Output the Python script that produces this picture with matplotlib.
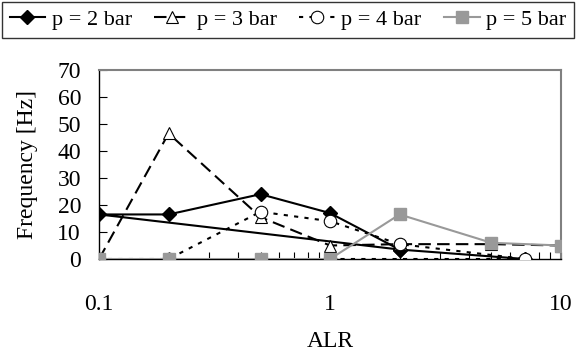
import matplotlib
matplotlib.use("Agg")
import matplotlib.pyplot as plt
from matplotlib.ticker import LogLocator, NullFormatter, FixedLocator, FixedFormatter

plt.rcParams['font.family'] = ['Liberation Serif', 'DejaVu Serif']

# Data (ALR, frequency in Hz); path order follows the reference's drawn lines
p2_x = [7, 2, 0.1, 0.2, 0.5, 1, 2]
p2_y = [0, 3.5, 16.5, 16.5, 24, 17, 3.5]

p3_x = [0.1, 0.2, 0.5, 1, 2, 5, 10]
p3_y = [0, 46.5, 15.5, 5, 5.5, 5.5, 5]

p4_x = [1, 7, 2, 1, 0.5, 0.2, 0.1]
p4_y = [0, 0, 5.5, 14, 17.5, 0, 0]

p5_x = [0.1, 0.2, 0.5, 1, 2, 5, 10]
p5_y = [0, 0, 0, 0, 16.5, 6, 5]

labels = ["p = 2 bar", "p = 3 bar", "p = 4 bar", "p = 5 bar"]
xticks = [0.1, 1, 10]
xtick_labels = ["0.1", "1", "10"]
yticks = [0, 10, 20, 30, 40, 50, 60, 70]

fig = plt.figure(figsize=(5.76, 3.57), dpi=100)
ax = fig.add_axes([0.172, 0.2745, 0.802, 0.5295])

h2, = ax.plot(p2_x, p2_y, color='black', lw=1.5, marker='D', ms=7.5,
              mfc='black', mec='black', label=labels[0], zorder=3)
h3, = ax.plot(p3_x, p3_y, color='black', lw=1.5, dashes=(6, 3), marker='^', ms=9,
              mfc='white', mec='black', mew=0.8, label=labels[1], zorder=3)
h4, = ax.plot(p4_x, p4_y, color='black', lw=1.5, dashes=(2, 3), marker='o', ms=9,
              mfc='white', mec='black', mew=0.8, label=labels[2], zorder=3)
h5, = ax.plot(p5_x, p5_y, color='#999999', lw=1.5, marker='s', ms=9,
              mfc='#999999', mec='#999999', label=labels[3], zorder=4)

ax.set_xscale('log')
ax.set_xlim(0.1, 10)
ax.set_ylim(0, 70)
ax.xaxis.set_major_locator(FixedLocator(xticks))
ax.xaxis.set_major_formatter(FixedFormatter(xtick_labels))
ax.xaxis.set_minor_locator(LogLocator(base=10, subs=range(2, 10)))
ax.xaxis.set_minor_formatter(NullFormatter())
ax.set_yticks(yticks)

ax.tick_params(axis='x', which='both', direction='in', top=False, labelsize=17,
               pad=25, length=5, width=0.8)
ax.tick_params(axis='y', which='major', direction='in', right=False, labelsize=17,
               length=6, width=0.8, pad=13)

for s in ['top', 'right']:
    ax.spines[s].set_color('#808080')
    ax.spines[s].set_linewidth(1.5)
for s in ['left', 'bottom']:
    ax.spines[s].set_color('black')
    ax.spines[s].set_linewidth(1.0)

ax.set_xlabel("ALR", fontsize=17, labelpad=12)
ax.set_ylabel("Frequency [Hz]", fontsize=17, labelpad=14)

leg = fig.legend(handles=[h2, h3, h4, h5], loc='upper left',
                 bbox_to_anchor=(0.003, 0.89, 0.994, 0.105), mode='expand',
                 ncol=4, fontsize=16, frameon=True, fancybox=False,
                 borderpad=0.35, handlelength=1.6, handletextpad=0.3,
                 columnspacing=0.8, borderaxespad=0.0)
leg.get_frame().set_edgecolor('black')
leg.get_frame().set_linewidth(1.0)

fig.savefig("out.png", dpi=100)
